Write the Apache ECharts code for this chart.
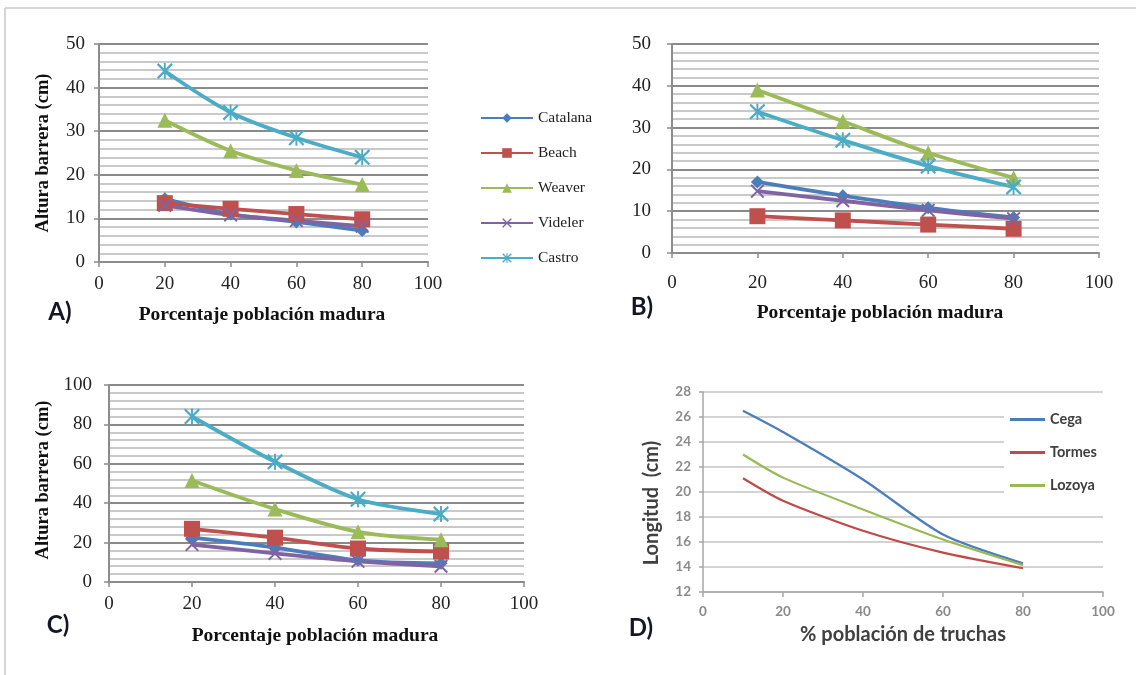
<!DOCTYPE html>
<html><head><meta charset="utf-8">
<script src="https://cdn.jsdelivr.net/npm/echarts@6/dist/echarts.min.js"></script>
<style>html,body{margin:0;padding:0;background:#fff}#c{width:1136px;height:675px}</style>
</head><body><div id="c"></div>
<script>
// ---- data ----
const xPct = [20, 40, 60, 80];
const seriesNames = ['Catalana', 'Beach', 'Weaver', 'Videler', 'Castro'];
// Panel A
const aCatalana = [14.5, 11, 9.2, 7.2];
const aBeach    = [13.5, 12.2, 11, 9.8];
const aWeaver   = [32.5, 25.5, 21, 17.8];
const aVideler  = [13, 10.8, 9.5, 8.2];
const aCastro   = [43.8, 34.3, 28.5, 24];
// Panel B
const bCatalana = [17, 13.7, 10.8, 8.5];
const bBeach    = [8.8, 7.8, 6.8, 5.8];
const bWeaver   = [39, 31.5, 24, 18];
const bVideler  = [14.8, 12.5, 10.2, 8.2];
const bCastro   = [33.8, 27, 20.8, 15.8];
// Panel C
const cCatalana = [22.5, 17.5, 11, 9.5];
const cBeach    = [27, 22.5, 17, 15.5];
const cWeaver   = [51.5, 37, 25.5, 21.5];
const cVideler  = [19, 14.5, 10.5, 8];
const cCastro   = [84, 61, 42, 34.5];
// Panel D
const xD = [10, 20, 40, 60, 80];
const dNames = ['Cega', 'Tormes', 'Lozoya'];
const dCega   = [26.5, 24.8, 21.0, 16.6, 14.3];
const dTormes = [21.1, 19.3, 16.9, 15.15, 13.9];
const dLozoya = [23.0, 21.15, 18.6, 16.2, 14.15];

// ---- styles ----
const SERIF = 'Liberation Serif';
const SANS = 'Lato';
const colors = { Catalana: '#4a7ebb', Beach: '#c0504d', Weaver: '#9bbb59', Videler: '#8064a2', Castro: '#4bacc6' };
const xPath = 'path://M0,1 L1,0 L5,4 L9,0 L10,1 L6,5 L10,9 L9,10 L5,6 L1,10 L0,9 L4,5 Z';
const starPath = 'path://M0,1 L1,0 L5,4 L9,0 L10,1 L6,5 L10,9 L9,10 L5,6 L1,10 L0,9 L4,5 Z M4.4,0 L5.6,0 L5.6,10 L4.4,10 Z';
const symbols = { Catalana: ['diamond', 13], Beach: ['rect', 16], Weaver: ['triangle', 15], Videler: [xPath, 14], Castro: [starPath, 16] };

function mkSeries(name, vals, gi) {
  const c = colors[name];
  return {
    name, type: 'line', xAxisIndex: gi, yAxisIndex: gi,
    data: xPct.map((x, i) => [x, vals[i]]),
    smooth: 0.3, symbol: symbols[name][0], symbolSize: symbols[name][1],
    showSymbol: true, lineStyle: { width: 3.8, color: c }, itemStyle: { color: c },
    emphasis: { disabled: true }, animation: false
  };
}
function mkD(name, vals, color) {
  return {
    name, type: 'line', xAxisIndex: 3, yAxisIndex: 3,
    data: xD.map((x, i) => [x, vals[i]]),
    smooth: 0.25, symbol: 'none', lineStyle: { width: 2.2, color }, itemStyle: { color },
    emphasis: { disabled: true }, animation: false
  };
}
function serifX(gi, margin) {
  return {
    type: 'value', gridIndex: gi, min: 0, max: 100, interval: 20,
    axisLine: { show: true, lineStyle: { color: '#8c8c8c', width: 2 } },
    axisTick: { show: true, length: 5, lineStyle: { color: '#8c8c8c', width: 1.5 } },
    axisLabel: { margin, fontFamily: SERIF, fontSize: 19, color: '#222' },
    splitLine: { show: false }
  };
}
function serifY(gi, max, interval, margin) {
  return {
    type: 'value', gridIndex: gi, min: 0, max, interval,
    axisLine: { show: true, lineStyle: { color: '#8c8c8c', width: 2 } },
    axisTick: { show: true, length: 5, lineStyle: { color: '#8c8c8c', width: 1.5 } },
    axisLabel: { margin, fontFamily: SERIF, fontSize: 19, color: '#222' },
    splitLine: { show: true, lineStyle: { color: '#8a8a8a', width: 2 } },
    minorTick: { show: true, splitNumber: 5, length: 0 },
    minorSplitLine: { show: true, lineStyle: { color: '#b8b8b8', width: 1.5 } }
  };
}
function txt(text, x, y, font, fill, rot) {
  return { type: 'text', x, y, rotation: rot || 0, silent: true,
    style: { text, font, fill, textAlign: 'center', textVerticalAlign: 'middle', verticalAlign: 'middle' } };
}

const series = [];
const A = [aCatalana, aBeach, aWeaver, aVideler, aCastro];
const B = [bCatalana, bBeach, bWeaver, bVideler, bCastro];
const C = [cCatalana, cBeach, cWeaver, cVideler, cCastro];
seriesNames.forEach((n, i) => series.push(mkSeries(n, A[i], 0)));
seriesNames.forEach((n, i) => series.push(mkSeries(n, B[i], 1)));
seriesNames.forEach((n, i) => series.push(mkSeries(n, C[i], 2)));
series.push(mkD('Cega', dCega, '#4a7ebb'));
series.push(mkD('Tormes', dTormes, '#be4b48'));
series.push(mkD('Lozoya', dLozoya, '#98b954'));

const chart = echarts.init(document.getElementById('c'), null, { renderer: 'canvas' });
chart.setOption({
  animation: false,
  backgroundColor: '#fff',
  grid: [
    { left: 99, top: 44, width: 329, height: 218 },
    { left: 672, top: 44, width: 427, height: 209 },
    { left: 109, top: 385, width: 415, height: 197 },
    { left: 703, top: 392, width: 400, height: 200 }
  ],
  xAxis: [
    serifX(0, 13), serifX(1, 21), serifX(2, 13),
    { type: 'value', gridIndex: 3, min: 0, max: 100, interval: 20,
      axisLine: { show: true, lineStyle: { color: '#a6a6a6', width: 1.5 } },
      axisTick: { show: true, length: 5, lineStyle: { color: '#a6a6a6', width: 1.5 } },
      axisLabel: { margin: 13, fontFamily: SANS, fontWeight: 'bold', fontSize: 13.5, color: '#8a8a8a' },
      splitLine: { show: false } }
  ],
  yAxis: [
    serifY(0, 50, 10, 14), serifY(1, 50, 10, 21), serifY(2, 100, 20, 17),
    { type: 'value', gridIndex: 3, min: 12, max: 28, interval: 2,
      axisLine: { show: true, lineStyle: { color: '#a6a6a6', width: 1.5 } },
      axisTick: { show: true, length: 4, lineStyle: { color: '#a6a6a6', width: 1.5 } },
      axisLabel: { margin: 12, fontFamily: SANS, fontWeight: 'bold', fontSize: 13.5, color: '#8a8a8a' },
      splitLine: { show: true, lineStyle: { color: '#c4c4c4', width: 1.5 } } }
  ],
  legend: [
    { data: seriesNames, orient: 'vertical', left: 480, top: 110, padding: 0,
      itemWidth: 52, itemHeight: 12, itemGap: 19,
      textStyle: { fontFamily: SERIF, fontSize: 15.5, lineHeight: 14, color: '#222' }, selectedMode: false },
    { data: dNames, orient: 'vertical', left: 1004, top: 400, padding: [12, 30, 12, 6],
      backgroundColor: '#fff', icon: 'rect', itemWidth: 35, itemHeight: 3, itemGap: 18,
      textStyle: { fontFamily: SANS, fontWeight: 'bold', fontSize: 14.5, lineHeight: 14, color: '#404040' }, selectedMode: false }
  ],
  series,
  graphic: [
    { type: 'line', silent: true, shape: { x1: 5, y1: 8, x2: 1136, y2: 8 }, style: { stroke: '#c8c8c8', lineWidth: 1.5 } },
    { type: 'line', silent: true, shape: { x1: 5, y1: 8, x2: 5, y2: 675 }, style: { stroke: '#c8c8c8', lineWidth: 1.5 } },
    txt('Altura barrera (cm)', 43, 153, 'bold 18.5px "Liberation Serif"', '#111', Math.PI / 2),
    txt('Porcentaje población madura', 262, 315, 'bold 19.5px "Liberation Serif"', '#111'),
    txt('Porcentaje población madura', 880, 313, 'bold 19.5px "Liberation Serif"', '#111'),
    txt('Altura barrera (cm)', 43, 480, 'bold 18.5px "Liberation Serif"', '#111', Math.PI / 2),
    txt('Porcentaje población madura', 315, 636, 'bold 19.5px "Liberation Serif"', '#111'),
    txt('Longitud  (cm)', 652, 503, 'bold 20px Lato', '#404040', Math.PI / 2),
    txt('% población de truchas', 903, 635, 'bold 20px Lato', '#404040'),
    txt('A)', 60, 312, 'bold 24px Lato', '#151525'),
    txt('B)', 642, 307, 'bold 24px Lato', '#151525'),
    txt('C)', 58, 625, 'bold 24px Lato', '#151525'),
    txt('D)', 641, 628, 'bold 24px Lato', '#151525')
  ]
});
</script>
</body></html>
